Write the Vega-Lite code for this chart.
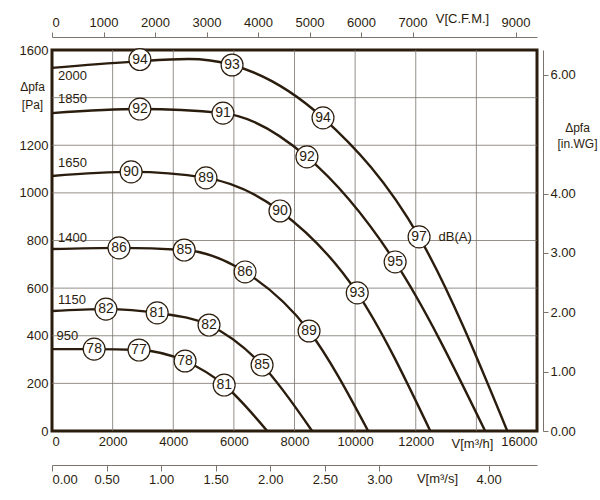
{
"$schema":"https://vega.github.io/schema/vega-lite/v6.json",
"width":485,"height":381,"autosize":"none","padding":{"left":52,"top":50,"right":63,"bottom":69},
"background":"#ffffff",
"config":{"font":"Liberation Sans","view":{"stroke":"#2b1d0e","strokeWidth":3},"axis":{"labelFontSize":13,"labelColor":"#2b1d0e","domainColor":"#7a746c","tickColor":"#7a746c","domainWidth":1,"grid":false,"titleFontSize":13,"titleFontWeight":"normal","titleColor":"#2b1d0e","titleLimit":200,"titleBaseline":"middle","titleAlign":"center"}},
"datasets":{
"curves":[
{"rpm":"950","q":0,"p":344},{"rpm":"950","q":1390,"p":344},{"rpm":"950","q":2870,"p":340},{"rpm":"950","q":4390,"p":294},{"rpm":"950","q":5680,"p":193},{"rpm":"950","q":7100,"p":0},
{"rpm":"1150","q":0,"p":504},{"rpm":"1150","q":1780,"p":512},{"rpm":"1150","q":3470,"p":496},{"rpm":"1150","q":5180,"p":445},{"rpm":"1150","q":6930,"p":277},{"rpm":"1150","q":8580,"p":0},
{"rpm":"1400","q":0,"p":764},{"rpm":"1400","q":2210,"p":769},{"rpm":"1400","q":4360,"p":760},{"rpm":"1400","q":6370,"p":668},{"rpm":"1400","q":8480,"p":420},{"rpm":"1400","q":10430,"p":0},
{"rpm":"1650","q":0,"p":1071},{"rpm":"1650","q":2610,"p":1088},{"rpm":"1650","q":5080,"p":1063},{"rpm":"1650","q":7520,"p":924},{"rpm":"1650","q":10070,"p":580},{"rpm":"1650","q":12480,"p":0},
{"rpm":"1850","q":0,"p":1335},{"rpm":"1850","q":2900,"p":1352},{"rpm":"1850","q":5640,"p":1335},{"rpm":"1850","q":8410,"p":1151},{"rpm":"1850","q":11320,"p":710},{"rpm":"1850","q":14290,"p":0},
{"rpm":"2000","q":0,"p":1525},{"rpm":"2000","q":2600,"p":1550},{"rpm":"2000","q":4500,"p":1562},{"rpm":"2000","q":5940,"p":1537},{"rpm":"2000","q":8940,"p":1315},{"rpm":"2000","q":12110,"p":815},{"rpm":"2000","q":15020,"p":0}
],
"marks":[
{"q":1390,"p":344,"db":"78"},{"q":2870,"p":340,"db":"77"},{"q":4390,"p":294,"db":"78"},{"q":5680,"p":193,"db":"81"},
{"q":1780,"p":512,"db":"82"},{"q":3470,"p":496,"db":"81"},{"q":5180,"p":445,"db":"82"},{"q":6930,"p":277,"db":"85"},
{"q":2210,"p":769,"db":"86"},{"q":4360,"p":760,"db":"85"},{"q":6370,"p":668,"db":"86"},{"q":8480,"p":420,"db":"89"},
{"q":2610,"p":1088,"db":"90"},{"q":5080,"p":1063,"db":"89"},{"q":7520,"p":924,"db":"90"},{"q":10070,"p":580,"db":"93"},
{"q":2900,"p":1352,"db":"92"},{"q":5640,"p":1335,"db":"91"},{"q":8410,"p":1151,"db":"92"},{"q":11320,"p":710,"db":"95"},
{"q":2900,"p":1560,"db":"94"},{"q":5940,"p":1537,"db":"93"},{"q":8940,"p":1315,"db":"94"},{"q":12110,"p":815,"db":"97"}
],
"rpms":[{"q":200,"p":1491,"t":"2000"},{"q":200,"p":1394,"t":"1850"},{"q":200,"p":1126,"t":"1650"},{"q":200,"p":810,"t":"1400"},{"q":200,"p":550,"t":"1150"},{"q":150,"p":399,"t":"950"}]
},
"resolve":{"scale":{"x":"independent","y":"independent"},"axis":{"x":"independent","y":"independent"}},
"layer":[
{"layer":[
{"data":{"values":[{"g":2000},{"g":4000},{"g":6000},{"g":8000},{"g":10000},{"g":12000},{"g":14000}]},"mark":{"type":"rule","color":"#7a746c","strokeWidth":0.8},
"encoding":{"x":{"field":"g","type":"quantitative"}}},
{"data":{"values":[{"h":200},{"h":400},{"h":600},{"h":800},{"h":1000},{"h":1200},{"h":1400}]},"mark":{"type":"rule","color":"#7a746c","strokeWidth":0.8},
"encoding":{"y":{"field":"h","type":"quantitative"}}},
{"data":{"name":"curves"},"mark":{"type":"line","interpolate":"monotone","color":"#2b1d0e","strokeWidth":2.4},
"encoding":{"x":{"field":"q","type":"quantitative","scale":{"domain":[0,16000],"nice":false},"axis":{"values":[0,2000,4000,6000,8000,10000,12000,14000,16000],"labelExpr":"datum.value==14000?'':datum.label","format":"d","ticks":false,"domain":false,"labelPadding":4,"title":"V[m³/h]","titleX":420,"titleY":12}},
"y":{"field":"p","type":"quantitative","scale":{"domain":[0,1600],"nice":false},"axis":{"values":[0,200,400,600,800,1000,1200,1400,1600],"labelExpr":"datum.value==1400?'':datum.label","format":"d","ticks":false,"domain":false,"labelPadding":4,"title":["Δpfa","[Pa]"],"titleAngle":0,"titleX":-20,"titleY":36,"titleLineHeight":18,"titleFontSize":12}},
"detail":{"field":"rpm"}}},
{"data":{"name":"marks"},"mark":{"type":"point","shape":"circle","filled":true,"fill":"white","stroke":"#2b1d0e","strokeWidth":1.2,"size":480,"opacity":1},
"encoding":{"x":{"field":"q","type":"quantitative"},"y":{"field":"p","type":"quantitative"}}},
{"data":{"name":"marks"},"mark":{"type":"text","fontSize":14,"color":"#2b1d0e"},
"encoding":{"x":{"field":"q","type":"quantitative"},"y":{"field":"p","type":"quantitative"},"text":{"field":"db"}}},
{"data":{"name":"rpms"},"mark":{"type":"text","fontSize":13,"align":"left","color":"#2b1d0e"},
"encoding":{"x":{"field":"q","type":"quantitative"},"y":{"field":"p","type":"quantitative"},"text":{"field":"t"}}},
{"data":{"values":[{"q":12750,"p":815,"t":"dB(A)"}]},"mark":{"type":"text","fontSize":13,"align":"left","color":"#2b1d0e"},
"encoding":{"x":{"field":"q","type":"quantitative"},"y":{"field":"p","type":"quantitative"},"text":{"field":"t"}}}
]},
{"data":{"values":[{"c":0,"w":0},{"c":9417,"w":6.42}]},"mark":{"type":"point","opacity":0},
"encoding":{"x":{"field":"c","type":"quantitative","scale":{"domain":[0,9417],"nice":false},"axis":{"orient":"top","offset":13,"values":[0,1000,2000,3000,4000,5000,6000,7000,9000],"format":"d","title":"V[C.F.M.]","titleX":410,"titleY":-19,"tickSize":5,"labelPadding":3}},
"y":{"field":"w","type":"quantitative","scale":{"domain":[0,6.42],"nice":false},"axis":{"orient":"right","offset":6,"values":[0,1,2,3,4,6],"format":".2f","tickSize":5,"labelPadding":2,"title":["Δpfa","[in.WG]"],"titleAngle":0,"titleX":34,"titleY":77,"titleLineHeight":16,"titleFontSize":12}}}},
{"data":{"values":[{"s":0,"z":0},{"s":4.444,"z":1}]},"mark":{"type":"point","opacity":0},
"encoding":{"x":{"field":"s","type":"quantitative","scale":{"domain":[0,4.444],"nice":false},"axis":{"orient":"bottom","offset":34,"values":[0,0.5,1,1.5,2,2.5,3,4],"format":".2f","title":"V[m³/s]","titleX":385,"titleY":13,"tickSize":6}},
"y":{"field":"z","type":"quantitative","axis":null}}}
]
}
